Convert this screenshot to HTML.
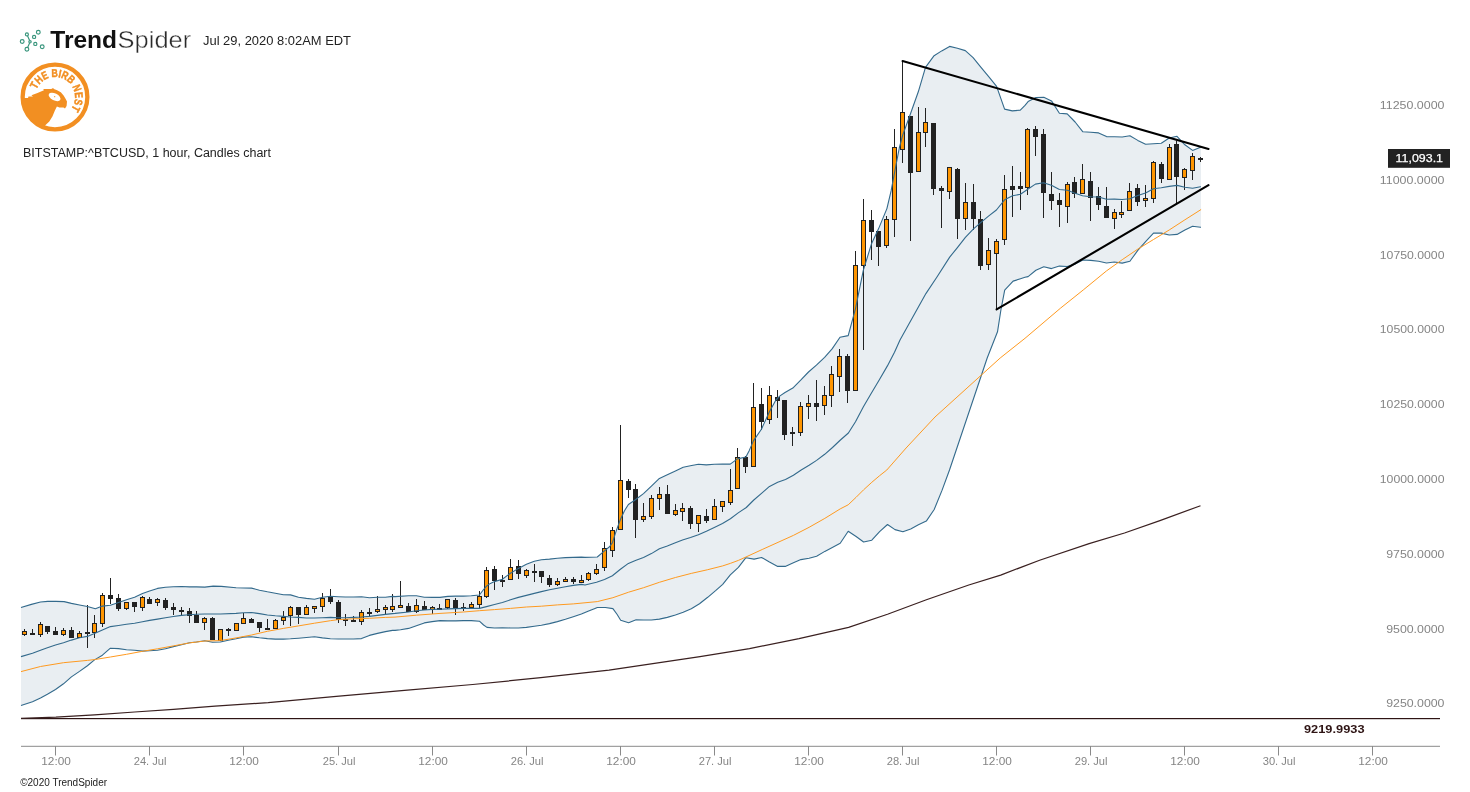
<!DOCTYPE html>
<html><head><meta charset="utf-8"><title>TrendSpider chart</title>
<style>html,body{margin:0;padding:0;background:#fff;width:1470px;height:792px;overflow:hidden;font-family:"Liberation Sans",sans-serif}</style>
</head><body>
<svg width="1470" height="792" viewBox="0 0 1470 792" style="position:absolute;left:0;top:0;will-change:transform;font-family:'Liberation Sans',sans-serif">
<rect width="1470" height="792" fill="#fff"/>
<path d="M21.0,607.5 L31.4,604.4 L40.5,602.0 L47.7,601.4 L55.9,601.4 L64.1,601.6 L71.4,603.4 L79.5,605.0 L87.4,606.5 L95.4,608.7 L102.4,606.1 L110.4,605.2 L118.5,602.4 L126.5,599.7 L134.6,597.3 L142.5,593.4 L149.6,590.9 L157.5,588.4 L165.5,587.3 L173.4,586.8 L181.5,586.5 L189.5,586.9 L196.5,586.9 L204.8,587.1 L213.2,586.1 L221.4,586.4 L236.1,587.7 L251.5,588.1 L259.5,590.2 L267.4,591.8 L275.3,593.2 L283.4,594.8 L290.5,594.9 L298.5,597.3 L306.4,598.4 L314.5,599.3 L322.4,597.3 L330.4,596.2 L338.3,596.7 L345.4,597.0 L353.5,597.0 L361.5,596.7 L369.4,597.7 L377.5,597.3 L385.4,597.3 L392.5,596.4 L395.0,596.6 L408.6,595.8 L416.4,595.8 L424.3,597.2 L432.1,597.4 L440.0,597.4 L447.8,596.4 L455.7,596.1 L463.4,596.1 L471.3,595.8 L479.4,595.0 L483.6,589.5 L486.5,586.1 L490.4,583.4 L494.5,581.6 L502.4,579.3 L506.8,575.9 L510.5,573.2 L518.4,568.4 L526.4,564.3 L534.3,561.2 L541.4,559.8 L549.5,559.1 L557.4,558.2 L565.4,557.6 L573.3,557.4 L581.4,557.1 L585.0,557.4 L597.3,557.0 L604.5,550.9 L609.5,546.8 L612.4,542.7 L616.4,530.4 L620.4,519.5 L624.5,510.7 L628.4,504.5 L635.4,499.8 L643.5,493.6 L651.4,486.1 L659.4,478.4 L667.3,474.7 L675.4,470.9 L683.2,467.2 L690.4,465.8 L698.4,464.3 L706.3,464.9 L714.4,464.3 L722.4,464.1 L730.3,464.1 L737.4,458.9 L745.9,457.0 L749.3,450.4 L753.4,440.9 L761.4,429.3 L769.3,411.9 L775.9,400.0 L780.0,395.9 L785.0,392.5 L792.8,388.1 L800.7,380.2 L808.5,372.0 L816.4,365.2 L824.6,357.4 L832.1,348.9 L840.0,337.3 L848.2,335.6 L855.5,308.6 L863.3,270.4 L871.4,244.1 L878.4,229.1 L886.9,208.6 L891.1,190.9 L894.7,171.8 L899.3,148.0 L902.6,135.4 L910.3,114.3 L918.3,91.8 L925.5,67.3 L934.1,55.7 L941.7,50.9 L949.6,46.4 L957.4,48.2 L965.3,50.6 L973.1,57.7 L981.0,67.3 L988.9,76.8 L996.6,86.4 L1000.9,98.6 L1004.6,109.1 L1012.3,110.9 L1020.3,110.1 L1025.0,105.4 L1028.1,101.6 L1035.9,97.5 L1043.8,97.2 L1051.5,100.9 L1059.4,113.2 L1067.2,113.9 L1075.1,122.0 L1082.9,131.8 L1090.8,132.3 L1098.6,132.9 L1106.5,136.6 L1114.3,136.8 L1122.2,137.0 L1129.9,135.7 L1137.8,140.4 L1145.6,144.3 L1153.5,143.8 L1161.3,143.2 L1169.2,138.0 L1177.0,136.3 L1184.9,144.8 L1192.6,150.4 L1200.5,147.3 L1201.0,147.1 L1201.0,227.3 L1200.5,227.3 L1192.6,226.2 L1184.9,230.0 L1177.0,234.4 L1169.2,235.0 L1161.3,233.1 L1153.5,233.1 L1145.6,241.6 L1137.8,250.4 L1129.9,261.3 L1122.2,263.1 L1114.3,262.0 L1106.5,263.0 L1098.6,261.3 L1090.8,260.4 L1082.9,260.0 L1075.1,264.1 L1067.2,266.5 L1059.4,266.1 L1051.5,268.6 L1043.8,266.8 L1035.9,270.2 L1028.1,276.6 L1025.0,277.3 L1020.5,278.8 L1013.1,281.1 L1004.7,290.2 L1000.9,310.0 L997.5,331.8 L987.2,358.0 L949.5,470.0 L942.0,490.4 L934.2,509.5 L926.3,521.1 L918.4,524.8 L910.7,528.9 L902.9,531.8 L895.0,529.6 L887.5,524.5 L879.6,531.6 L871.8,540.2 L863.6,542.0 L856.1,536.5 L848.2,531.3 L840.2,543.3 L832.3,547.4 L824.8,551.4 L816.6,556.2 L809.1,558.2 L800.9,559.6 L793.4,562.7 L785.2,566.4 L777.7,566.4 L769.0,561.8 L761.6,557.5 L754.1,559.1 L745.9,557.7 L738.4,567.3 L730.3,574.8 L722.7,584.3 L715.9,590.4 L707.7,597.3 L699.5,603.8 L691.3,608.8 L683.2,612.3 L675.4,615.0 L667.3,617.4 L659.4,619.1 L651.4,620.0 L643.6,620.0 L636.1,619.8 L628.6,622.8 L620.7,620.2 L617.0,614.3 L612.9,608.6 L605.4,607.5 L597.3,607.5 L595.0,608.4 L588.6,611.1 L581.4,614.1 L573.3,616.8 L565.4,619.3 L557.4,621.6 L549.5,623.6 L541.4,625.3 L534.3,626.3 L526.4,627.4 L518.4,628.0 L510.5,628.0 L502.4,627.7 L494.5,628.0 L487.0,627.4 L483.6,625.0 L479.4,621.2 L471.3,620.6 L463.4,620.6 L455.7,620.9 L447.8,620.9 L440.0,620.6 L432.1,621.6 L424.3,622.9 L416.4,625.7 L408.6,628.4 L400.5,629.8 L395.0,630.4 L392.5,630.4 L385.4,631.6 L377.5,633.4 L369.4,635.4 L361.5,638.6 L353.5,639.0 L345.4,639.0 L338.3,639.0 L330.4,638.7 L322.4,637.9 L314.5,636.8 L306.4,637.5 L298.5,638.2 L290.5,638.8 L283.4,639.1 L275.3,639.1 L267.4,638.6 L259.5,637.8 L251.5,636.8 L243.4,637.1 L236.1,638.8 L228.3,640.2 L220.4,642.0 L212.5,642.3 L204.8,640.8 L196.5,642.0 L189.5,642.7 L181.5,644.7 L173.4,646.6 L165.5,648.8 L157.5,650.2 L149.6,650.7 L142.5,651.1 L134.6,650.3 L126.5,649.7 L118.5,648.6 L110.4,648.2 L102.4,655.2 L94.5,659.9 L87.4,665.7 L79.5,671.4 L71.4,676.9 L63.5,683.8 L55.5,689.5 L47.4,694.3 L40.5,698.1 L32.5,701.8 L21.0,705.6Z" fill="#e9eef2" stroke="none"/>
<rect x="21" y="718" width="1419" height="1.2" fill="#2e1414"/>
<g stroke="#222" stroke-width="1" shape-rendering="crispEdges">
<path d="M24.5,629 V631M24.5,635 V636" fill="none"/>
<rect x="22.5" y="631.5" width="4" height="3" fill="#ff9500"/>
<path d="M32.5,629 V633" fill="none"/>
<rect x="30.5" y="633.5" width="4" height="1" fill="#222"/>
<path d="M40.5,622 V624M40.5,635 V637" fill="none"/>
<rect x="38.5" y="624.5" width="4" height="10" fill="#ff9500"/>
<path d="M47.5,632 V634" fill="none"/>
<rect x="45.5" y="626.5" width="4" height="5" fill="#222"/>
<path d="M55.5,627 V631" fill="none"/>
<rect x="53.5" y="631.5" width="4" height="3" fill="#222"/>
<path d="M63.5,628 V630M63.5,635 V636" fill="none"/>
<rect x="61.5" y="630.5" width="4" height="4" fill="#ff9500"/>
<path d="M71.5,627 V630" fill="none"/>
<rect x="69.5" y="630.5" width="4" height="7" fill="#222"/>
<path d="M79.5,631 V633" fill="none"/>
<rect x="77.5" y="633.5" width="4" height="4" fill="#ff9500"/>
<path d="M87.5,605 V632M87.5,634 V648" fill="none"/>
<rect x="85.5" y="632.5" width="4" height="1" fill="#222"/>
<path d="M94.5,615 V623M94.5,633 V638" fill="none"/>
<rect x="92.5" y="623.5" width="4" height="9" fill="#ff9500"/>
<path d="M102.5,593 V595M102.5,624 V627" fill="none"/>
<rect x="100.5" y="595.5" width="4" height="28" fill="#ff9500"/>
<path d="M110.5,578 V595M110.5,599 V604" fill="none"/>
<rect x="108.5" y="595.5" width="4" height="3" fill="#222"/>
<path d="M118.5,594 V598M118.5,609 V611" fill="none"/>
<rect x="116.5" y="598.5" width="4" height="10" fill="#222"/>
<path d="M126.5,609 V610" fill="none"/>
<rect x="124.5" y="602.5" width="4" height="6" fill="#ff9500"/>
<path d="M134.5,607 V612" fill="none"/>
<rect x="132.5" y="602.5" width="4" height="4" fill="#222"/>
<path d="M142.5,596 V597M142.5,608 V611" fill="none"/>
<rect x="140.5" y="597.5" width="4" height="10" fill="#ff9500"/>
<path d="M149.5,597 V599" fill="none"/>
<rect x="147.5" y="599.5" width="4" height="4" fill="#222"/>
<path d="M157.5,598 V599M157.5,603 V606" fill="none"/>
<rect x="155.5" y="599.5" width="4" height="3" fill="#ff9500"/>
<path d="M165.5,598 V600M165.5,608 V610" fill="none"/>
<rect x="163.5" y="600.5" width="4" height="7" fill="#222"/>
<path d="M173.5,603 V607M173.5,610 V615" fill="none"/>
<rect x="171.5" y="607.5" width="4" height="2" fill="#222"/>
<path d="M181.5,607 V610M181.5,612 V615" fill="none"/>
<rect x="179.5" y="610.5" width="4" height="1" fill="#222"/>
<path d="M189.5,608 V611M189.5,616 V623" fill="none"/>
<rect x="187.5" y="611.5" width="4" height="4" fill="#222"/>
<path d="M196.5,611 V615" fill="none"/>
<rect x="194.5" y="615.5" width="4" height="7" fill="#222"/>
<path d="M204.5,617 V618M204.5,623 V630" fill="none"/>
<rect x="202.5" y="618.5" width="4" height="4" fill="#ff9500"/>
<path d="M212.5,617 V618" fill="none"/>
<rect x="210.5" y="618.5" width="4" height="21" fill="#222"/>
<rect x="218.5" y="629.5" width="4" height="11" fill="#ff9500"/>
<path d="M228.5,628 V629M228.5,631 V636" fill="none"/>
<rect x="226.5" y="629.5" width="4" height="1" fill="#222"/>
<rect x="234.5" y="623.5" width="4" height="7" fill="#ff9500"/>
<path d="M243.5,613 V618" fill="none"/>
<rect x="241.5" y="618.5" width="4" height="5" fill="#ff9500"/>
<path d="M251.5,618 V619" fill="none"/>
<rect x="249.5" y="619.5" width="4" height="3" fill="#222"/>
<path d="M259.5,628 V632" fill="none"/>
<rect x="257.5" y="622.5" width="4" height="5" fill="#222"/>
<path d="M267.5,619 V628" fill="none"/>
<rect x="265.5" y="628.5" width="4" height="1" fill="#222"/>
<path d="M275.5,619 V620" fill="none"/>
<rect x="273.5" y="620.5" width="4" height="8" fill="#ff9500"/>
<path d="M283.5,611 V617M283.5,621 V625" fill="none"/>
<rect x="281.5" y="617.5" width="4" height="3" fill="#ff9500"/>
<path d="M290.5,606 V607M290.5,616 V626" fill="none"/>
<rect x="288.5" y="607.5" width="4" height="8" fill="#ff9500"/>
<path d="M298.5,615 V624" fill="none"/>
<rect x="296.5" y="607.5" width="4" height="7" fill="#222"/>
<path d="M306.5,605 V607" fill="none"/>
<rect x="304.5" y="607.5" width="4" height="7" fill="#ff9500"/>
<path d="M314.5,609 V613" fill="none"/>
<rect x="312.5" y="606.5" width="4" height="2" fill="#ff9500"/>
<path d="M322.5,593 V598M322.5,607 V612" fill="none"/>
<rect x="320.5" y="598.5" width="4" height="8" fill="#ff9500"/>
<path d="M330.5,589 V596M330.5,602 V604" fill="none"/>
<rect x="328.5" y="596.5" width="4" height="5" fill="#222"/>
<path d="M338.5,600 V602M338.5,620 V623" fill="none"/>
<rect x="336.5" y="602.5" width="4" height="17" fill="#222"/>
<path d="M345.5,614 V619M345.5,621 V626" fill="none"/>
<rect x="343.5" y="619.5" width="4" height="1" fill="#222"/>
<path d="M353.5,616 V620" fill="none"/>
<rect x="351.5" y="620.5" width="4" height="1" fill="#222"/>
<path d="M361.5,610 V612M361.5,622 V625" fill="none"/>
<rect x="359.5" y="612.5" width="4" height="9" fill="#ff9500"/>
<path d="M369.5,608 V612M369.5,614 V616" fill="none"/>
<rect x="367.5" y="612.5" width="4" height="1" fill="#222"/>
<path d="M377.5,596 V609M377.5,612 V613" fill="none"/>
<rect x="375.5" y="609.5" width="4" height="2" fill="#ff9500"/>
<path d="M385.5,605 V607M385.5,610 V614" fill="none"/>
<rect x="383.5" y="607.5" width="4" height="2" fill="#ff9500"/>
<path d="M392.5,594 V606M392.5,610 V612" fill="none"/>
<rect x="390.5" y="606.5" width="4" height="3" fill="#ff9500"/>
<path d="M400.5,581 V605" fill="none"/>
<rect x="398.5" y="605.5" width="4" height="2" fill="#ff9500"/>
<path d="M408.5,603 V606" fill="none"/>
<rect x="406.5" y="606.5" width="4" height="5" fill="#222"/>
<path d="M416.5,599 V605M416.5,612 V613" fill="none"/>
<rect x="414.5" y="605.5" width="4" height="6" fill="#ff9500"/>
<path d="M424.5,601 V606" fill="none"/>
<rect x="422.5" y="606.5" width="4" height="3" fill="#222"/>
<path d="M432.5,606 V607M432.5,610 V614" fill="none"/>
<rect x="430.5" y="607.5" width="4" height="2" fill="#ff9500"/>
<path d="M439.5,604 V608" fill="none"/>
<rect x="437.5" y="608.5" width="4" height="1" fill="#222"/>
<path d="M447.5,608 V609" fill="none"/>
<rect x="445.5" y="599.5" width="4" height="8" fill="#ff9500"/>
<path d="M455.5,598 V600M455.5,608 V615" fill="none"/>
<rect x="453.5" y="600.5" width="4" height="7" fill="#222"/>
<path d="M463.5,603 V607M463.5,609 V611" fill="none"/>
<rect x="461.5" y="607.5" width="4" height="1" fill="#222"/>
<path d="M471.5,602 V604" fill="none"/>
<rect x="469.5" y="604.5" width="4" height="3" fill="#ff9500"/>
<path d="M479.5,591 V596M479.5,605 V608" fill="none"/>
<rect x="477.5" y="596.5" width="4" height="8" fill="#ff9500"/>
<path d="M486.5,567 V570M486.5,597 V598" fill="none"/>
<rect x="484.5" y="570.5" width="4" height="26" fill="#ff9500"/>
<path d="M494.5,566 V569M494.5,581 V590" fill="none"/>
<rect x="492.5" y="569.5" width="4" height="11" fill="#222"/>
<path d="M502.5,575 V580M502.5,582 V587" fill="none"/>
<rect x="500.5" y="580.5" width="4" height="1" fill="#222"/>
<path d="M510.5,559 V567" fill="none"/>
<rect x="508.5" y="567.5" width="4" height="12" fill="#ff9500"/>
<path d="M518.5,560 V566M518.5,574 V579" fill="none"/>
<rect x="516.5" y="566.5" width="4" height="7" fill="#222"/>
<path d="M526.5,569 V570M526.5,576 V578" fill="none"/>
<rect x="524.5" y="570.5" width="4" height="5" fill="#ff9500"/>
<path d="M534.5,564 V571M534.5,573 V582" fill="none"/>
<rect x="532.5" y="571.5" width="4" height="1" fill="#222"/>
<path d="M541.5,577 V583" fill="none"/>
<rect x="539.5" y="571.5" width="4" height="5" fill="#222"/>
<path d="M549.5,575 V578M549.5,585 V587" fill="none"/>
<rect x="547.5" y="578.5" width="4" height="6" fill="#222"/>
<path d="M557.5,578 V581M557.5,585 V586" fill="none"/>
<rect x="555.5" y="581.5" width="4" height="3" fill="#ff9500"/>
<path d="M565.5,577 V579" fill="none"/>
<rect x="563.5" y="579.5" width="4" height="2" fill="#ff9500"/>
<path d="M573.5,577 V579M573.5,582 V584" fill="none"/>
<rect x="571.5" y="579.5" width="4" height="2" fill="#222"/>
<path d="M581.5,575 V580" fill="none"/>
<rect x="579.5" y="580.5" width="4" height="2" fill="#ff9500"/>
<path d="M588.5,572 V573M588.5,580 V581" fill="none"/>
<rect x="586.5" y="573.5" width="4" height="6" fill="#ff9500"/>
<path d="M596.5,564 V569M596.5,574 V575" fill="none"/>
<rect x="594.5" y="569.5" width="4" height="4" fill="#ff9500"/>
<path d="M604.5,542 V548M604.5,568 V571" fill="none"/>
<rect x="602.5" y="548.5" width="4" height="19" fill="#ff9500"/>
<path d="M612.5,527 V530M612.5,551 V557" fill="none"/>
<rect x="610.5" y="530.5" width="4" height="20" fill="#ff9500"/>
<path d="M620.5,425 V480" fill="none"/>
<rect x="618.5" y="480.5" width="4" height="49" fill="#ff9500"/>
<path d="M628.5,479 V481M628.5,490 V498" fill="none"/>
<rect x="626.5" y="481.5" width="4" height="8" fill="#222"/>
<path d="M635.5,484 V489M635.5,520 V538" fill="none"/>
<rect x="633.5" y="489.5" width="4" height="30" fill="#222"/>
<path d="M643.5,503 V516M643.5,520 V522" fill="none"/>
<rect x="641.5" y="516.5" width="4" height="3" fill="#ff9500"/>
<path d="M651.5,495 V498M651.5,517 V519" fill="none"/>
<rect x="649.5" y="498.5" width="4" height="18" fill="#ff9500"/>
<path d="M659.5,487 V494M659.5,499 V510" fill="none"/>
<rect x="657.5" y="494.5" width="4" height="4" fill="#ff9500"/>
<path d="M667.5,485 V494" fill="none"/>
<rect x="665.5" y="494.5" width="4" height="19" fill="#222"/>
<path d="M675.5,504 V510M675.5,515 V516" fill="none"/>
<rect x="673.5" y="510.5" width="4" height="4" fill="#ff9500"/>
<path d="M682.5,503 V508M682.5,512 V521" fill="none"/>
<rect x="680.5" y="508.5" width="4" height="3" fill="#ff9500"/>
<path d="M690.5,506 V508M690.5,524 V529" fill="none"/>
<rect x="688.5" y="508.5" width="4" height="15" fill="#222"/>
<path d="M698.5,524 V532" fill="none"/>
<rect x="696.5" y="515.5" width="4" height="8" fill="#ff9500"/>
<path d="M706.5,509 V516M706.5,521 V523" fill="none"/>
<rect x="704.5" y="516.5" width="4" height="4" fill="#222"/>
<path d="M714.5,499 V506" fill="none"/>
<rect x="712.5" y="506.5" width="4" height="13" fill="#ff9500"/>
<path d="M722.5,507 V512" fill="none"/>
<rect x="720.5" y="501.5" width="4" height="5" fill="#ff9500"/>
<path d="M730.5,469 V490M730.5,503 V505" fill="none"/>
<rect x="728.5" y="490.5" width="4" height="12" fill="#ff9500"/>
<path d="M737.5,448 V457" fill="none"/>
<rect x="735.5" y="457.5" width="4" height="31" fill="#ff9500"/>
<path d="M745.5,456 V457M745.5,467 V473" fill="none"/>
<rect x="743.5" y="457.5" width="4" height="9" fill="#222"/>
<path d="M753.5,383 V407" fill="none"/>
<rect x="751.5" y="407.5" width="4" height="59" fill="#ff9500"/>
<path d="M761.5,388 V404M761.5,422 V430" fill="none"/>
<rect x="759.5" y="404.5" width="4" height="17" fill="#222"/>
<path d="M769.5,386 V395M769.5,420 V424" fill="none"/>
<rect x="767.5" y="395.5" width="4" height="24" fill="#ff9500"/>
<path d="M777.5,390 V397M777.5,401 V418" fill="none"/>
<rect x="775.5" y="397.5" width="4" height="3" fill="#222"/>
<path d="M784.5,435 V440" fill="none"/>
<rect x="782.5" y="400.5" width="4" height="34" fill="#222"/>
<path d="M792.5,427 V432M792.5,434 V446" fill="none"/>
<rect x="790.5" y="432.5" width="4" height="1" fill="#222"/>
<path d="M800.5,402 V406M800.5,433 V436" fill="none"/>
<rect x="798.5" y="406.5" width="4" height="26" fill="#ff9500"/>
<path d="M808.5,395 V403M808.5,407 V419" fill="none"/>
<rect x="806.5" y="403.5" width="4" height="3" fill="#ff9500"/>
<path d="M816.5,380 V403M816.5,407 V421" fill="none"/>
<rect x="814.5" y="403.5" width="4" height="3" fill="#222"/>
<path d="M824.5,386 V395M824.5,406 V415" fill="none"/>
<rect x="822.5" y="395.5" width="4" height="10" fill="#ff9500"/>
<path d="M831.5,366 V374M831.5,396 V407" fill="none"/>
<rect x="829.5" y="374.5" width="4" height="21" fill="#ff9500"/>
<path d="M839.5,349 V356M839.5,377 V392" fill="none"/>
<rect x="837.5" y="356.5" width="4" height="20" fill="#ff9500"/>
<path d="M847.5,354 V356M847.5,391 V403" fill="none"/>
<rect x="845.5" y="356.5" width="4" height="34" fill="#222"/>
<path d="M855.5,251 V265" fill="none"/>
<rect x="853.5" y="265.5" width="4" height="125" fill="#ff9500"/>
<path d="M863.5,199 V220M863.5,266 V350" fill="none"/>
<rect x="861.5" y="220.5" width="4" height="45" fill="#ff9500"/>
<path d="M871.5,210 V220M871.5,232 V260" fill="none"/>
<rect x="869.5" y="220.5" width="4" height="11" fill="#222"/>
<path d="M878.5,247 V266" fill="none"/>
<rect x="876.5" y="231.5" width="4" height="15" fill="#222"/>
<path d="M886.5,216 V219M886.5,246 V248" fill="none"/>
<rect x="884.5" y="219.5" width="4" height="26" fill="#ff9500"/>
<path d="M894.5,129 V147M894.5,220 V237" fill="none"/>
<rect x="892.5" y="147.5" width="4" height="72" fill="#ff9500"/>
<path d="M902.5,61 V112M902.5,150 V163" fill="none"/>
<rect x="900.5" y="112.5" width="4" height="37" fill="#ff9500"/>
<path d="M910.5,173 V241" fill="none"/>
<rect x="908.5" y="116.5" width="4" height="56" fill="#222"/>
<path d="M918.5,107 V132" fill="none"/>
<rect x="916.5" y="132.5" width="4" height="39" fill="#ff9500"/>
<path d="M925.5,108 V122M925.5,133 V147" fill="none"/>
<rect x="923.5" y="122.5" width="4" height="10" fill="#ff9500"/>
<path d="M933.5,189 V195" fill="none"/>
<rect x="931.5" y="123.5" width="4" height="65" fill="#222"/>
<path d="M941.5,186 V188M941.5,191 V228" fill="none"/>
<rect x="939.5" y="188.5" width="4" height="2" fill="#222"/>
<path d="M949.5,192 V199" fill="none"/>
<rect x="947.5" y="167.5" width="4" height="24" fill="#ff9500"/>
<path d="M957.5,168 V169M957.5,219 V239" fill="none"/>
<rect x="955.5" y="169.5" width="4" height="49" fill="#222"/>
<path d="M965.5,183 V202M965.5,219 V230" fill="none"/>
<rect x="963.5" y="202.5" width="4" height="16" fill="#ff9500"/>
<path d="M973.5,184 V202M973.5,219 V230" fill="none"/>
<rect x="971.5" y="202.5" width="4" height="16" fill="#222"/>
<path d="M980.5,211 V219M980.5,266 V270" fill="none"/>
<rect x="978.5" y="219.5" width="4" height="46" fill="#222"/>
<path d="M988.5,238 V250M988.5,265 V270" fill="none"/>
<rect x="986.5" y="250.5" width="4" height="14" fill="#ff9500"/>
<path d="M996.5,239 V241M996.5,254 V310" fill="none"/>
<rect x="994.5" y="241.5" width="4" height="12" fill="#ff9500"/>
<path d="M1004.5,175 V189M1004.5,240 V245" fill="none"/>
<rect x="1002.5" y="189.5" width="4" height="50" fill="#ff9500"/>
<path d="M1012.5,166 V186M1012.5,190 V217" fill="none"/>
<rect x="1010.5" y="186.5" width="4" height="3" fill="#222"/>
<path d="M1020.5,172 V186M1020.5,189 V210" fill="none"/>
<rect x="1018.5" y="186.5" width="4" height="2" fill="#222"/>
<path d="M1027.5,128 V129M1027.5,188 V195" fill="none"/>
<rect x="1025.5" y="129.5" width="4" height="58" fill="#ff9500"/>
<path d="M1035.5,126 V129M1035.5,137 V156" fill="none"/>
<rect x="1033.5" y="129.5" width="4" height="7" fill="#222"/>
<path d="M1043.5,129 V134M1043.5,193 V218" fill="none"/>
<rect x="1041.5" y="134.5" width="4" height="58" fill="#222"/>
<path d="M1051.5,172 V194M1051.5,201 V210" fill="none"/>
<rect x="1049.5" y="194.5" width="4" height="6" fill="#222"/>
<path d="M1059.5,193 V200M1059.5,205 V227" fill="none"/>
<rect x="1057.5" y="200.5" width="4" height="4" fill="#222"/>
<path d="M1067.5,182 V184M1067.5,207 V223" fill="none"/>
<rect x="1065.5" y="184.5" width="4" height="22" fill="#ff9500"/>
<path d="M1074.5,177 V182M1074.5,194 V198" fill="none"/>
<rect x="1072.5" y="182.5" width="4" height="11" fill="#222"/>
<path d="M1082.5,164 V179" fill="none"/>
<rect x="1080.5" y="179.5" width="4" height="14" fill="#ff9500"/>
<path d="M1090.5,172 V181M1090.5,198 V221" fill="none"/>
<rect x="1088.5" y="181.5" width="4" height="16" fill="#222"/>
<path d="M1098.5,187 V196M1098.5,205 V210" fill="none"/>
<rect x="1096.5" y="196.5" width="4" height="8" fill="#222"/>
<path d="M1106.5,187 V206" fill="none"/>
<rect x="1104.5" y="206.5" width="4" height="11" fill="#222"/>
<path d="M1114.5,209 V212M1114.5,219 V229" fill="none"/>
<rect x="1112.5" y="212.5" width="4" height="6" fill="#ff9500"/>
<path d="M1121.5,201 V212M1121.5,215 V218" fill="none"/>
<rect x="1119.5" y="212.5" width="4" height="2" fill="#ff9500"/>
<path d="M1129.5,183 V191" fill="none"/>
<rect x="1127.5" y="191.5" width="4" height="19" fill="#ff9500"/>
<path d="M1137.5,184 V188M1137.5,202 V206" fill="none"/>
<rect x="1135.5" y="188.5" width="4" height="13" fill="#222"/>
<path d="M1145.5,185 V198M1145.5,201 V207" fill="none"/>
<rect x="1143.5" y="198.5" width="4" height="2" fill="#ff9500"/>
<path d="M1153.5,161 V162M1153.5,199 V203" fill="none"/>
<rect x="1151.5" y="162.5" width="4" height="36" fill="#ff9500"/>
<path d="M1161.5,162 V164M1161.5,179 V183" fill="none"/>
<rect x="1159.5" y="164.5" width="4" height="14" fill="#222"/>
<path d="M1169.5,144 V147" fill="none"/>
<rect x="1167.5" y="147.5" width="4" height="32" fill="#ff9500"/>
<path d="M1176.5,141 V144M1176.5,177 V203" fill="none"/>
<rect x="1174.5" y="144.5" width="4" height="32" fill="#222"/>
<path d="M1184.5,168 V169M1184.5,178 V190" fill="none"/>
<rect x="1182.5" y="169.5" width="4" height="8" fill="#ff9500"/>
<path d="M1192.5,153 V156M1192.5,171 V180" fill="none"/>
<rect x="1190.5" y="156.5" width="4" height="14" fill="#ff9500"/>
<path d="M1200.5,157 V158M1200.5,160 V162" fill="none"/>
<rect x="1198.5" y="158.5" width="4" height="1" fill="#222"/>
</g>
<path d="M21.0,607.5 L31.4,604.4 L40.5,602.0 L47.7,601.4 L55.9,601.4 L64.1,601.6 L71.4,603.4 L79.5,605.0 L87.4,606.5 L95.4,608.7 L102.4,606.1 L110.4,605.2 L118.5,602.4 L126.5,599.7 L134.6,597.3 L142.5,593.4 L149.6,590.9 L157.5,588.4 L165.5,587.3 L173.4,586.8 L181.5,586.5 L189.5,586.9 L196.5,586.9 L204.8,587.1 L213.2,586.1 L221.4,586.4 L236.1,587.7 L251.5,588.1 L259.5,590.2 L267.4,591.8 L275.3,593.2 L283.4,594.8 L290.5,594.9 L298.5,597.3 L306.4,598.4 L314.5,599.3 L322.4,597.3 L330.4,596.2 L338.3,596.7 L345.4,597.0 L353.5,597.0 L361.5,596.7 L369.4,597.7 L377.5,597.3 L385.4,597.3 L392.5,596.4 L395.0,596.6 L408.6,595.8 L416.4,595.8 L424.3,597.2 L432.1,597.4 L440.0,597.4 L447.8,596.4 L455.7,596.1 L463.4,596.1 L471.3,595.8 L479.4,595.0 L483.6,589.5 L486.5,586.1 L490.4,583.4 L494.5,581.6 L502.4,579.3 L506.8,575.9 L510.5,573.2 L518.4,568.4 L526.4,564.3 L534.3,561.2 L541.4,559.8 L549.5,559.1 L557.4,558.2 L565.4,557.6 L573.3,557.4 L581.4,557.1 L585.0,557.4 L597.3,557.0 L604.5,550.9 L609.5,546.8 L612.4,542.7 L616.4,530.4 L620.4,519.5 L624.5,510.7 L628.4,504.5 L635.4,499.8 L643.5,493.6 L651.4,486.1 L659.4,478.4 L667.3,474.7 L675.4,470.9 L683.2,467.2 L690.4,465.8 L698.4,464.3 L706.3,464.9 L714.4,464.3 L722.4,464.1 L730.3,464.1 L737.4,458.9 L745.9,457.0 L749.3,450.4 L753.4,440.9 L761.4,429.3 L769.3,411.9 L775.9,400.0 L780.0,395.9 L785.0,392.5 L792.8,388.1 L800.7,380.2 L808.5,372.0 L816.4,365.2 L824.6,357.4 L832.1,348.9 L840.0,337.3 L848.2,335.6 L855.5,308.6 L863.3,270.4 L871.4,244.1 L878.4,229.1 L886.9,208.6 L891.1,190.9 L894.7,171.8 L899.3,148.0 L902.6,135.4 L910.3,114.3 L918.3,91.8 L925.5,67.3 L934.1,55.7 L941.7,50.9 L949.6,46.4 L957.4,48.2 L965.3,50.6 L973.1,57.7 L981.0,67.3 L988.9,76.8 L996.6,86.4 L1000.9,98.6 L1004.6,109.1 L1012.3,110.9 L1020.3,110.1 L1025.0,105.4 L1028.1,101.6 L1035.9,97.5 L1043.8,97.2 L1051.5,100.9 L1059.4,113.2 L1067.2,113.9 L1075.1,122.0 L1082.9,131.8 L1090.8,132.3 L1098.6,132.9 L1106.5,136.6 L1114.3,136.8 L1122.2,137.0 L1129.9,135.7 L1137.8,140.4 L1145.6,144.3 L1153.5,143.8 L1161.3,143.2 L1169.2,138.0 L1177.0,136.3 L1184.9,144.8 L1192.6,150.4 L1200.5,147.3 L1201.0,147.1" fill="none" stroke="#336a8c" stroke-width="1.1" stroke-linejoin="round"/>
<path d="M21.0,656.6 L32.5,653.2 L40.5,650.2 L47.4,647.7 L55.5,645.1 L63.5,642.7 L71.4,640.1 L79.5,637.8 L87.4,636.4 L94.5,633.5 L102.4,630.0 L110.4,626.6 L118.5,625.5 L126.5,624.3 L134.6,623.2 L142.5,621.8 L149.6,620.4 L157.5,619.1 L165.5,617.7 L173.4,616.5 L181.5,615.4 L189.5,614.7 L196.5,614.3 L204.8,614.0 L220.4,614.0 L236.1,613.4 L243.4,612.8 L251.5,612.5 L259.5,613.6 L267.4,615.0 L275.3,615.8 L283.4,616.4 L290.5,617.0 L298.5,617.4 L306.4,618.0 L314.5,618.0 L322.4,617.7 L330.4,617.4 L338.3,617.7 L345.4,617.7 L353.5,617.4 L361.5,617.0 L369.4,616.4 L377.5,615.4 L385.4,614.4 L392.5,613.6 L395.0,613.4 L408.6,612.0 L416.4,610.7 L424.3,610.0 L432.1,609.4 L440.0,609.2 L447.8,608.9 L455.7,608.6 L463.4,608.4 L471.3,608.4 L479.4,608.4 L486.5,606.6 L494.5,604.5 L502.4,602.5 L510.5,599.8 L518.4,597.4 L526.4,595.4 L534.3,593.4 L541.4,591.6 L549.5,589.8 L557.4,588.2 L565.4,586.8 L573.3,585.4 L581.4,584.4 L585.0,585.0 L596.5,582.2 L604.5,579.5 L612.4,575.7 L620.4,569.3 L628.4,563.4 L635.4,560.4 L643.5,557.4 L651.4,553.6 L659.4,548.8 L667.3,546.1 L675.4,542.7 L682.5,540.0 L690.5,537.5 L698.4,534.8 L706.4,531.3 L714.3,527.5 L722.5,523.4 L730.4,518.8 L738.2,512.9 L746.3,507.5 L753.8,500.0 L761.8,493.2 L769.5,486.4 L777.7,482.3 L785.5,479.5 L793.4,475.2 L801.2,470.0 L809.1,465.2 L816.6,460.4 L824.7,454.3 L832.5,447.5 L840.4,440.0 L848.4,433.0 L855.5,421.8 L863.4,406.8 L871.3,393.2 L879.5,379.5 L887.4,365.9 L894.5,352.3 L900.0,340.0 L925.9,293.6 L936.8,277.3 L949.7,257.1 L957.0,248.1 L965.4,237.3 L973.5,228.8 L980.4,222.9 L988.5,216.1 L996.4,210.0 L1004.6,199.8 L1012.6,195.7 L1020.5,194.3 L1027.4,189.5 L1035.4,184.1 L1043.4,182.7 L1051.4,185.2 L1059.4,189.5 L1067.5,190.2 L1074.4,192.9 L1082.5,195.7 L1090.5,196.8 L1098.6,197.0 L1106.5,199.3 L1114.3,199.1 L1122.2,199.5 L1129.9,198.8 L1137.8,195.4 L1145.6,192.9 L1153.5,188.8 L1161.3,187.8 L1169.2,186.4 L1177.0,185.4 L1184.9,187.2 L1192.6,188.2 L1200.5,186.8 L1201.0,186.7" fill="none" stroke="#336a8c" stroke-width="1.1" stroke-linejoin="round"/>
<path d="M21.0,705.6 L32.5,701.8 L40.5,698.1 L47.4,694.3 L55.5,689.5 L63.5,683.8 L71.4,676.9 L79.5,671.4 L87.4,665.7 L94.5,659.9 L102.4,655.2 L110.4,648.2 L118.5,648.6 L126.5,649.7 L134.6,650.3 L142.5,651.1 L149.6,650.7 L157.5,650.2 L165.5,648.8 L173.4,646.6 L181.5,644.7 L189.5,642.7 L196.5,642.0 L204.8,640.8 L212.5,642.3 L220.4,642.0 L228.3,640.2 L236.1,638.8 L243.4,637.1 L251.5,636.8 L259.5,637.8 L267.4,638.6 L275.3,639.1 L283.4,639.1 L290.5,638.8 L298.5,638.2 L306.4,637.5 L314.5,636.8 L322.4,637.9 L330.4,638.7 L338.3,639.0 L345.4,639.0 L353.5,639.0 L361.5,638.6 L369.4,635.4 L377.5,633.4 L385.4,631.6 L392.5,630.4 L395.0,630.4 L400.5,629.8 L408.6,628.4 L416.4,625.7 L424.3,622.9 L432.1,621.6 L440.0,620.6 L447.8,620.9 L455.7,620.9 L463.4,620.6 L471.3,620.6 L479.4,621.2 L483.6,625.0 L487.0,627.4 L494.5,628.0 L502.4,627.7 L510.5,628.0 L518.4,628.0 L526.4,627.4 L534.3,626.3 L541.4,625.3 L549.5,623.6 L557.4,621.6 L565.4,619.3 L573.3,616.8 L581.4,614.1 L588.6,611.1 L595.0,608.4 L597.3,607.5 L605.4,607.5 L612.9,608.6 L617.0,614.3 L620.7,620.2 L628.6,622.8 L636.1,619.8 L643.6,620.0 L651.4,620.0 L659.4,619.1 L667.3,617.4 L675.4,615.0 L683.2,612.3 L691.3,608.8 L699.5,603.8 L707.7,597.3 L715.9,590.4 L722.7,584.3 L730.3,574.8 L738.4,567.3 L745.9,557.7 L754.1,559.1 L761.6,557.5 L769.0,561.8 L777.7,566.4 L785.2,566.4 L793.4,562.7 L800.9,559.6 L809.1,558.2 L816.6,556.2 L824.8,551.4 L832.3,547.4 L840.2,543.3 L848.2,531.3 L856.1,536.5 L863.6,542.0 L871.8,540.2 L879.6,531.6 L887.5,524.5 L895.0,529.6 L902.9,531.8 L910.7,528.9 L918.4,524.8 L926.3,521.1 L934.2,509.5 L942.0,490.4 L949.5,470.0 L987.2,358.0 L997.5,331.8 L1000.9,310.0 L1004.7,290.2 L1013.1,281.1 L1020.5,278.8 L1025.0,277.3 L1028.1,276.6 L1035.9,270.2 L1043.8,266.8 L1051.5,268.6 L1059.4,266.1 L1067.2,266.5 L1075.1,264.1 L1082.9,260.0 L1090.8,260.4 L1098.6,261.3 L1106.5,263.0 L1114.3,262.0 L1122.2,263.1 L1129.9,261.3 L1137.8,250.4 L1145.6,241.6 L1153.5,233.1 L1161.3,233.1 L1169.2,235.0 L1177.0,234.4 L1184.9,230.0 L1192.6,226.2 L1200.5,227.3 L1201.0,227.3" fill="none" stroke="#336a8c" stroke-width="1.1" stroke-linejoin="round"/>
<path d="M21.0,671.6 L40.5,666.5 L63.5,662.7 L87.4,660.4 L94.5,659.6 L110.4,657.0 L126.5,654.3 L142.5,651.3 L157.5,648.8 L173.4,645.9 L189.5,642.9 L204.8,641.0 L220.4,640.6 L236.1,637.9 L251.5,635.0 L267.4,631.3 L283.4,628.4 L298.5,625.9 L314.5,623.2 L330.4,620.7 L338.3,619.6 L353.5,618.8 L369.4,618.3 L385.4,617.4 L395.0,617.1 L416.4,615.2 L440.0,613.4 L463.4,612.0 L479.4,610.7 L494.5,609.6 L510.5,608.4 L526.4,607.0 L541.4,606.2 L557.4,604.9 L573.3,603.9 L597.3,601.6 L612.9,597.7 L628.6,592.2 L643.6,587.7 L659.4,582.3 L675.4,577.5 L691.3,573.4 L707.7,569.7 L722.7,565.9 L730.3,563.4 L738.4,560.4 L745.9,557.0 L762.2,549.5 L793.4,535.4 L809.1,527.3 L824.8,518.4 L840.2,508.9 L848.2,504.8 L856.1,497.3 L863.6,489.8 L871.8,482.3 L879.6,475.7 L886.8,470.0 L906.1,448.0 L935.0,417.0 L1000.2,358.0 L1025.0,338.3 L1060.7,308.0 L1083.2,290.0 L1106.5,270.9 L1122.2,259.7 L1137.8,249.1 L1153.5,239.5 L1169.2,230.0 L1184.9,219.8 L1201.1,209.5" fill="none" stroke="#ff9a20" stroke-width="1" stroke-linejoin="round"/>
<path d="M21.0,718.4 L55.9,717.1 L94.5,714.8 L134.6,712.0 L173.4,709.3 L215.0,706.2 L268.2,702.6 L336.3,696.4 L404.5,690.3 L472.7,684.5 L540.8,677.7 L609.0,670.2 L700.0,656.6 L749.5,648.6 L799.0,638.7 L848.6,627.4 L887.5,614.3 L926.4,599.8 L968.8,585.0 L1000.7,575.1 L1039.6,560.2 L1089.1,543.6 L1124.5,533.0 L1159.9,520.6 L1200.5,505.7" fill="none" stroke="#3a2020" stroke-width="1.2" stroke-linejoin="round"/>
<path d="M902.6,61.1 L1208.5,148.9" stroke="#000" stroke-width="2.1" stroke-linecap="round" fill="none"/>
<path d="M996.6,309.4 L1208.5,185.2" stroke="#000" stroke-width="2.1" stroke-linecap="round" fill="none"/>
<g opacity="0.995">
<rect x="21" y="745.8" width="1419" height="1" fill="#8a8a8a"/>
<rect x="55.0" y="746" width="1" height="9.5" fill="#8a8a8a"/>
<text x="41.3" y="765.1" font-size="11" fill="#858585" textLength="29.6" lengthAdjust="spacingAndGlyphs">12:00</text>
<rect x="149.0" y="746" width="1" height="9.5" fill="#8a8a8a"/>
<text x="133.7" y="765.1" font-size="11" fill="#858585" textLength="32.8" lengthAdjust="spacingAndGlyphs">24. Jul</text>
<rect x="243.0" y="746" width="1" height="9.5" fill="#8a8a8a"/>
<text x="229.3" y="765.1" font-size="11" fill="#858585" textLength="29.6" lengthAdjust="spacingAndGlyphs">12:00</text>
<rect x="338.0" y="746" width="1" height="9.5" fill="#8a8a8a"/>
<text x="322.7" y="765.1" font-size="11" fill="#858585" textLength="32.8" lengthAdjust="spacingAndGlyphs">25. Jul</text>
<rect x="432.0" y="746" width="1" height="9.5" fill="#8a8a8a"/>
<text x="418.3" y="765.1" font-size="11" fill="#858585" textLength="29.6" lengthAdjust="spacingAndGlyphs">12:00</text>
<rect x="526.0" y="746" width="1" height="9.5" fill="#8a8a8a"/>
<text x="510.7" y="765.1" font-size="11" fill="#858585" textLength="32.8" lengthAdjust="spacingAndGlyphs">26. Jul</text>
<rect x="620.0" y="746" width="1" height="9.5" fill="#8a8a8a"/>
<text x="606.3" y="765.1" font-size="11" fill="#858585" textLength="29.6" lengthAdjust="spacingAndGlyphs">12:00</text>
<rect x="714.0" y="746" width="1" height="9.5" fill="#8a8a8a"/>
<text x="698.7" y="765.1" font-size="11" fill="#858585" textLength="32.8" lengthAdjust="spacingAndGlyphs">27. Jul</text>
<rect x="808.0" y="746" width="1" height="9.5" fill="#8a8a8a"/>
<text x="794.3" y="765.1" font-size="11" fill="#858585" textLength="29.6" lengthAdjust="spacingAndGlyphs">12:00</text>
<rect x="902.0" y="746" width="1" height="9.5" fill="#8a8a8a"/>
<text x="886.7" y="765.1" font-size="11" fill="#858585" textLength="32.8" lengthAdjust="spacingAndGlyphs">28. Jul</text>
<rect x="996.0" y="746" width="1" height="9.5" fill="#8a8a8a"/>
<text x="982.3" y="765.1" font-size="11" fill="#858585" textLength="29.6" lengthAdjust="spacingAndGlyphs">12:00</text>
<rect x="1090.0" y="746" width="1" height="9.5" fill="#8a8a8a"/>
<text x="1074.7" y="765.1" font-size="11" fill="#858585" textLength="32.8" lengthAdjust="spacingAndGlyphs">29. Jul</text>
<rect x="1184.0" y="746" width="1" height="9.5" fill="#8a8a8a"/>
<text x="1170.3" y="765.1" font-size="11" fill="#858585" textLength="29.6" lengthAdjust="spacingAndGlyphs">12:00</text>
<rect x="1278.0" y="746" width="1" height="9.5" fill="#8a8a8a"/>
<text x="1262.7" y="765.1" font-size="11" fill="#858585" textLength="32.8" lengthAdjust="spacingAndGlyphs">30. Jul</text>
<rect x="1372.0" y="746" width="1" height="9.5" fill="#8a8a8a"/>
<text x="1358.3" y="765.1" font-size="11" fill="#858585" textLength="29.6" lengthAdjust="spacingAndGlyphs">12:00</text>
<text x="1379.8" y="109.2" font-size="11" fill="#858585" textLength="64.7" lengthAdjust="spacingAndGlyphs">11250.0000</text>
<text x="1379.8" y="183.9" font-size="11" fill="#858585" textLength="64.7" lengthAdjust="spacingAndGlyphs">11000.0000</text>
<text x="1379.8" y="258.7" font-size="11" fill="#858585" textLength="64.7" lengthAdjust="spacingAndGlyphs">10750.0000</text>
<text x="1379.8" y="333.4" font-size="11" fill="#858585" textLength="64.7" lengthAdjust="spacingAndGlyphs">10500.0000</text>
<text x="1379.8" y="408.2" font-size="11" fill="#858585" textLength="64.7" lengthAdjust="spacingAndGlyphs">10250.0000</text>
<text x="1379.8" y="482.9" font-size="11" fill="#858585" textLength="64.7" lengthAdjust="spacingAndGlyphs">10000.0000</text>
<text x="1386.2" y="557.7" font-size="11" fill="#858585" textLength="58.3" lengthAdjust="spacingAndGlyphs">9750.0000</text>
<text x="1386.2" y="632.5" font-size="11" fill="#858585" textLength="58.3" lengthAdjust="spacingAndGlyphs">9500.0000</text>
<text x="1386.2" y="707.2" font-size="11" fill="#858585" textLength="58.3" lengthAdjust="spacingAndGlyphs">9250.0000</text>
<rect x="1388" y="149" width="62" height="18.8" fill="#222"/>
<text x="1395.6" y="162" font-size="11" fill="#fff" stroke="#fff" stroke-width="0.25" textLength="47.4" lengthAdjust="spacingAndGlyphs">11,093.1</text>
<text x="1304" y="733.2" font-size="11" font-weight="bold" fill="#2e1414" textLength="60.5" lengthAdjust="spacingAndGlyphs">9219.9933</text>
</g>
<g opacity="0.995">
<path d="M27.5,35.8 L29.6,40.6 M29.6,43 L27.6,47.5" stroke="#38957c" stroke-width="1.15" fill="none"/>
<circle cx="38.3" cy="32.2" r="1.9" fill="none" stroke="#38957c" stroke-width="1.15"/>
<circle cx="26.9" cy="34.4" r="1.5" fill="none" stroke="#38957c" stroke-width="1.15"/>
<circle cx="34.1" cy="36.9" r="1.6" fill="none" stroke="#38957c" stroke-width="1.15"/>
<circle cx="22.2" cy="41.5" r="1.9" fill="none" stroke="#38957c" stroke-width="1.15"/>
<circle cx="30.0" cy="41.8" r="1.2" fill="none" stroke="#38957c" stroke-width="1.15"/>
<circle cx="35.3" cy="43.9" r="1.6" fill="none" stroke="#38957c" stroke-width="1.15"/>
<circle cx="42.2" cy="46.8" r="1.9" fill="none" stroke="#38957c" stroke-width="1.15"/>
<circle cx="26.9" cy="49.3" r="1.9" fill="none" stroke="#38957c" stroke-width="1.15"/>
<text x="50.3" y="47.9" font-size="23.9" font-weight="bold" fill="#111" textLength="66.8" lengthAdjust="spacingAndGlyphs">Trend</text>
<text x="117.6" y="47.9" font-size="23.9" fill="#2a2a2a" stroke="#fff" stroke-width="0.4" textLength="73.6" lengthAdjust="spacingAndGlyphs">Spider</text>
<text x="203" y="45.3" font-size="12.5" fill="#222" textLength="148" lengthAdjust="spacingAndGlyphs">Jul 29, 2020 8:02AM EDT</text>
<text x="23" y="157" font-size="12" fill="#222" textLength="248" lengthAdjust="spacingAndGlyphs">BITSTAMP:^BTCUSD, 1 hour, Candles chart</text>
<text x="20.2" y="785.9" font-size="10" fill="#222">©2020 TrendSpider</text>
<circle cx="55.0" cy="97.0" r="32.35" fill="#fff" stroke="#f28f22" stroke-width="4.3"/>
<clipPath id="lc"><circle cx="55.0" cy="97.0" r="32.5"/></clipPath>
<path clip-path="url(#lc)" d="M20.0,97.9 L28.0,97.9 L28.5,96.6 L33.0,96.6 L31.4,95.3 L37.5,92.9 L43.9,90.2 L43.3,89.1 L51.3,88.9 L53.1,88.1 L53.9,89.1 L57.1,90.2 L60.8,92.3 L63.6,95.6 L65.4,98.5 L67.0,101.4 L66.6,106.0 L65.0,108.5 L63.5,107.5 L59.4,107.5 L56.9,106.5 L54.9,110.5 L52.4,116.6 L49.3,121.6 L45.3,125.2 L42.0,134.0 L16.0,134.0 Z" fill="#f28f22"/>
<ellipse cx="54.6" cy="96.9" rx="6.4" ry="3.5" transform="rotate(27 54.6 96.9)" fill="#fff"/>
<circle cx="54.7" cy="96.7" r="0.6" fill="#f28f22"/>
<path id="arc" d="M36.46,89.51 A20.0,20.0 0 1 1 71.28,108.61" fill="none"/>
<text font-size="11.2" font-weight="bold" fill="#f28f22" stroke="#f28f22" stroke-width="0.45"><textPath href="#arc" textLength="67.5" lengthAdjust="spacingAndGlyphs">THE BIRB NEST</textPath></text>
</g>
</svg>
</body></html>
